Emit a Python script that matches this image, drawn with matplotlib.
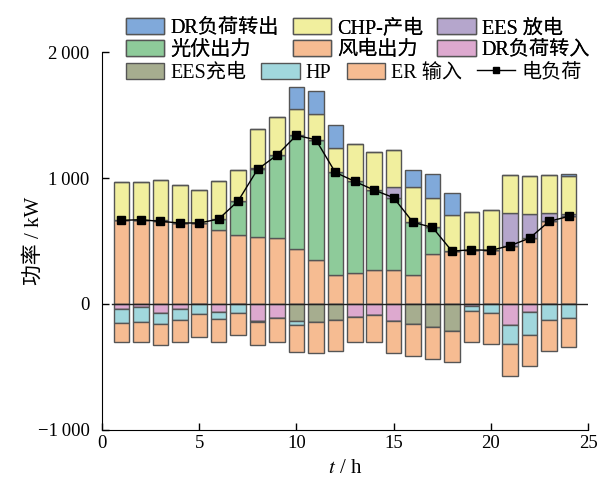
import numpy as np
import matplotlib
matplotlib.use('Agg')
import matplotlib.pyplot as plt
from matplotlib.patches import Patch
from matplotlib.lines import Line2D
from matplotlib.ticker import FuncFormatter

plt.rcParams['font.family'] = ['Liberation Serif', 'Noto Sans CJK SC']
plt.rcParams['mathtext.fontset'] = 'stix'
plt.rcParams['axes.unicode_minus'] = False

# hourly data (kW)
hours = np.arange(1, 25)
wind = [664, 669, 655, 643, 643, 590, 550, 532, 521, 434, 352, 227,
        246, 267, 272, 227, 399, 420, 428, 426, 463, 523, 658, 695]
pv = [0, 0, 0, 0, 0, 84, 267, 540, 661, 904, 952, 818,
      727, 637, 572, 421, 209, 0, 0, 0, 0, 0, 0, 0]
ees_dis = [0, 0, 10, 0, 0, 0, 0, 8, 0, 0, 0, 0,
           0, 0, 82, 0, 0, 0, 0, 0, 259, 188, 64, 19]
chp = [301, 301, 316, 298, 259, 304, 243, 311, 302, 209, 206, 195,
       299, 302, 298, 278, 233, 283, 299, 317, 304, 302, 304, 299]
dr_out = [0, 0, 0, 0, 0, 0, 0, 0, 0, 175, 183, 180,
          0, 0, 0, 134, 190, 177, 0, 0, 0, 0, 0, 18]
dr_in = [37, 24, 71, 42, 0, 66, 0, 138, 111, 0, 0, 0,
         106, 85, 135, 0, 0, 0, 16, 0, 167, 66, 0, 0]
ees_ch = [0, 0, 0, 0, 0, 0, 0, 0, 0, 132, 140, 127,
          0, 0, 0, 162, 183, 214, 0, 0, 0, 0, 0, 0]
hp = [114, 122, 91, 82, 79, 50, 71, 4, 0, 35, 0, 0,
      0, 0, 0, 0, 0, 0, 40, 69, 151, 178, 127, 111]
er_in = [151, 156, 164, 178, 183, 186, 173, 181, 191, 214, 246, 246,
         196, 217, 251, 251, 251, 246, 246, 251, 251, 251, 246, 228]
load = [664, 669, 656, 643, 643, 674, 817, 1068, 1182, 1338, 1304, 1045,
        973, 904, 844, 648, 608, 420, 430, 426, 463, 523, 656, 695]

c_dr_out = '#80a9da'
c_chp = '#f1ef9e'
c_ees_dis = '#b5a6cc'
c_pv = '#8ecb9a'
c_wind = '#f6bc92'
c_dr_in = '#dda9cf'
c_ees_ch = '#a6ad8f'
c_hp = '#a1d7dd'
c_er = '#f6bc92'

fig = plt.figure(figsize=(6.01, 4.82), dpi=100)
ax = fig.add_axes([0.1697, 0.1079, 0.8087, 0.7842])

w = 0.8
ec = '#555555'
lw = 1.0

# positive stack
pos = [(wind, c_wind), (pv, c_pv), (ees_dis, c_ees_dis), (chp, c_chp), (dr_out, c_dr_out)]
bottom = np.zeros(24)
for vals, col in pos:
    v = np.array(vals, dtype=float)
    ax.bar(hours, v, w, bottom=bottom, color=col, edgecolor=ec, linewidth=lw, zorder=2)
    bottom += v

# negative stack
neg = [(dr_in, c_dr_in), (ees_ch, c_ees_ch), (hp, c_hp), (er_in, c_er)]
bottom = np.zeros(24)
for vals, col in neg:
    v = -np.array(vals, dtype=float)
    ax.bar(hours, v, w, bottom=bottom, color=col, edgecolor=ec, linewidth=lw, zorder=2)
    bottom += v

ax.plot([0.5, 25], [0, 0], color='#222222', linewidth=1.0, zorder=3)
ax.plot(hours, load, color='black', linewidth=1.0, marker='s', markersize=5.5, zorder=4)

ax.set_xlim(0, 25)
ax.set_ylim(-1000, 2000)
ax.set_xticks([0, 5, 10, 15, 20, 25])
ax.set_yticks([-1000, 0, 1000, 2000])
ax.yaxis.set_major_formatter(FuncFormatter(
    lambda v, p: ('\u2212' if v < 0 else '') + (f'{abs(int(v)):,}'.replace(',', '\u2009'))))
ax.tick_params(direction='in', length=5, width=1)
ax.tick_params(axis='x', labelsize=13.5)
ax.tick_params(axis='y', labelsize=13.5, pad=9)
ax.spines['top'].set_visible(False)
ax.spines['right'].set_visible(False)
ax.set_xlabel(r'$t$ / h', fontsize=15, labelpad=5)
ax.set_ylabel('功率 / kW', fontsize=15)
ax.yaxis.set_label_coords(-0.12, 0.5)

# legend, rows 1-2 (column-major order for ncol=3)
h1 = [Patch(facecolor=c_dr_out, edgecolor=ec, label='DR负荷转出'),
      Patch(facecolor=c_pv, edgecolor=ec, label='光伏出力'),
      Patch(facecolor=c_chp, edgecolor=ec, label='CHP-产电'),
      Patch(facecolor=c_wind, edgecolor=ec, label='风电出力'),
      Patch(facecolor=c_ees_dis, edgecolor=ec, label='EES 放电'),
      Patch(facecolor=c_dr_in, edgecolor=ec, label='DR负荷转入')]
leg1 = fig.legend(handles=h1, ncol=3, loc='upper left', bbox_to_anchor=(0.193, 0.983),
                  frameon=False, fontsize=14.5, handlelength=1.9, handleheight=0.85,
                  handletextpad=0.3, columnspacing=0.7, labelspacing=0.1,
                  borderpad=0.3, borderaxespad=0.2)
h2 = [Patch(facecolor=c_ees_ch, edgecolor=ec, label='EES充电'),
      Patch(facecolor=c_hp, edgecolor=ec, label='HP'),
      Patch(facecolor=c_er, edgecolor=ec, label='ER 输入'),
      Line2D([], [], color='black', linewidth=1.0, marker='s', markersize=5, label='电负荷')]
leg2 = fig.legend(handles=h2, ncol=4, loc='upper left', bbox_to_anchor=(0.193, 0.891),
                  frameon=False, fontsize=14.5, handlelength=1.9, handleheight=0.85,
                  handletextpad=0.3, columnspacing=0.75, labelspacing=0.1,
                  borderpad=0.3, borderaxespad=0.2)
fig.add_artist(leg1)

fig.savefig('out.png', dpi=100)
